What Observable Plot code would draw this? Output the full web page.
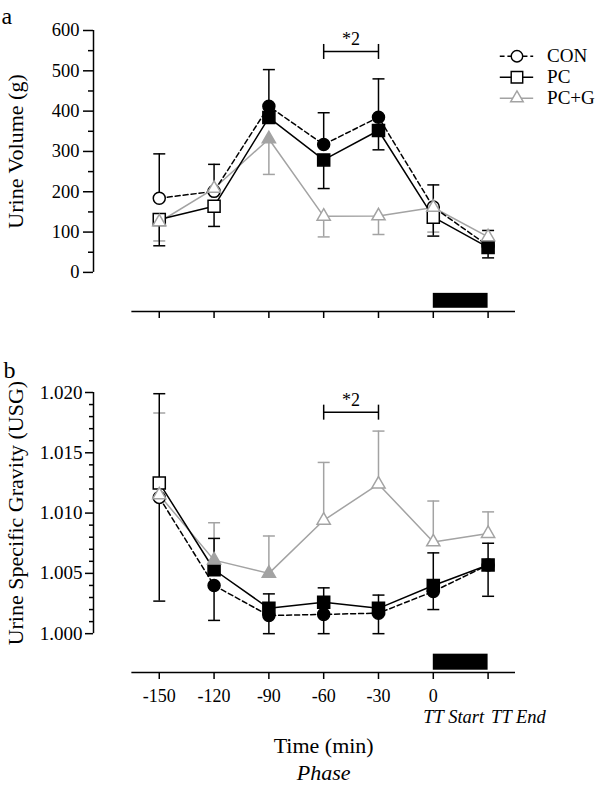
<!DOCTYPE html>
<html><head><meta charset="utf-8">
<script src="https://cdn.jsdelivr.net/npm/d3@7"></script>
<script src="https://cdn.jsdelivr.net/npm/@observablehq/plot@0.6"></script>
<style>
body{margin:0;background:#fff;font-family:'Liberation Serif','Times New Roman',serif;}
#wrap{position:relative;width:600px;height:788px;overflow:hidden;}
#wrap svg{display:block;}
#legend{position:absolute;left:495px;top:29px;}
</style></head><body>
<div id="wrap"><div id="pa"></div><div id="pb"></div><div id="legend"></div></div>
<script>
// ---- shared categories ----
const times = [-150, -120, -90, -60, -30, 0, 30];
const tickLabels = ["-150", "-120", "-90", "-60", "-30", "0", ""];
const phaseTimes = [0, 30];
const phaseLabels = ["TT Start", "TT End"];
const series = ["CON", "PC", "PC+G"];

// ---- panel a: urine volume (g) ----
const volCON = [184, 201, 412, 317, 385, 162, 66];
const volPC = [131, 164, 384, 279, 352, 137, 62];
const volPCG = [125, 208, 331, 139, 140, 161, 88];
const volCONsd = [110, 67, 91, 79, 95, 55, 38];
const volPCsd = [65, 50, null, 71, 48, 47, 26];
const volPCGsd = [47, null, 88, 51, 46, 61, 40];
const volCONfilled = [0, 0, 1, 1, 1, 0, 1];
const volPCfilled = [0, 0, 1, 1, 1, 0, 1];
const volPCGfilled = [0, 0, 1, 0, 0, 0, 0];
const volErrDir = [1, -1, -1];
const volTicks = [0, 100, 200, 300, 400, 500, 600];
const volTickLabels = ["0", "100", "200", "300", "400", "500", "600"];
const volMinor = [50, 150, 250, 350, 450, 550];
const volSig = {from: -60, to: -30, y: 548, label: "*2"};

// ---- panel b: urine specific gravity ----
const usgCON = [1.0113, 1.0040, 1.0015, 1.0016, 1.0017, 1.0035, 1.0057];
const usgPC = [1.0125, 1.0053, 1.0021, 1.0026, 1.0021, 1.0040, 1.0057];
const usgPCG = [1.0115, 1.0061, 1.0050, 1.0094, 1.0124, 1.0076, 1.0083];
const usgCONsd = [0.0086, 0.0029, 0.0015, 0.0016, 0.0017, 0.0015, 0.0026];
const usgPCsd = [0.0074, 0.0026, 0.0012, 0.0012, 0.0011, 0.0027, 0.0018];
const usgPCGsd = [0.0068, 0.0031, 0.0031, 0.0048, 0.0044, 0.0034, 0.0018];
const usgCONfilled = [0, 1, 1, 1, 1, 1, 1];
const usgPCfilled = [0, 1, 1, 1, 1, 1, 1];
const usgPCGfilled = [0, 1, 1, 0, 0, 0, 0];
const usgErrDir = [-1, 1, 1];
const usgTicks = [1.000, 1.005, 1.010, 1.015, 1.020];
const usgTickLabels = ["1.000", "1.005", "1.010", "1.015", "1.020"];
const usgMinor = [1.001, 1.002, 1.003, 1.004, 1.006, 1.007, 1.008, 1.009, 1.011, 1.012, 1.013, 1.014, 1.016, 1.017, 1.018, 1.019];
const usgSig = {from: -60, to: -30, y: 1.01837, label: "*2"};

// ---- styles ----
const FONT = "'Liberation Serif','Times New Roman',serif";
const colors = ["#000000", "#000000", "#a3a3a3"];
const dashes = ["5,3", null, null];
const symbols = ["circle", "square", "triangle"];
const radii = [6, 6.8, 4.9];
const SW = 1.5;
const capSym = {draw(ctx) { ctx.moveTo(-6, 0); ctx.lineTo(6, 0); }};
const vSym = {draw(ctx) { ctx.moveTo(0, -7.5); ctx.lineTo(0, 7.5); }};
const xDomain = [-186, 45];
const axisExtent = [-165, 45];

function rows(means, sds, filled, dir) {
  return times.map((t, i) => ({t, m: means[i], sd: sds[i], f: filled[i], dir}));
}

function seriesMarks(all) {
  const marks = [];
  [2, 0, 1].forEach(k => {
    marks.push(Plot.line(all[k], {x: "t", y: "m", stroke: colors[k], strokeWidth: SW,
      strokeDasharray: dashes[k] || undefined}));
  });
  [2, 0, 1].forEach(k => {
    const e = all[k].filter(d => d.sd != null);
    marks.push(Plot.ruleX(e, {x: "t", y1: "m", y2: d => d.m + d.dir * d.sd, stroke: colors[k], strokeWidth: SW}));
    marks.push(Plot.dot(e, {x: "t", y: d => d.m + d.dir * d.sd, symbol: capSym, r: 5, stroke: colors[k], fill: "none", strokeWidth: SW}));
  });
  [0, 1, 2].forEach(k => {
    marks.push(Plot.dot(all[k], {x: "t", y: "m", symbol: symbols[k], r: radii[k], stroke: colors[k],
      fill: d => d.f ? colors[k] : "white", strokeWidth: SW}));
  });
  return marks;
}

function sigMarks(sig) {
  return [
    Plot.ruleY([sig], {x1: "from", x2: "to", y: "y", strokeWidth: SW}),
    Plot.dot([sig.from, sig.to], {x: d => d, y: () => sig.y, symbol: vSym, r: 5, stroke: "black", fill: "none", strokeWidth: SW}),
    Plot.text([sig], {x: d => (d.from + d.to) / 2, y: "y", text: "label", dy: -12, fontSize: 18})
  ];
}

// ---------- Panel a ----------
const allA = [rows(volCON, volCONsd, volCONfilled, volErrDir[0]),
              rows(volPC, volPCsd, volPCfilled, volErrDir[1]),
              rows(volPCG, volPCGsd, volPCGfilled, volErrDir[2])];
const yDomA = [-97, 600];
const ttBarA = {x1: phaseTimes[0], x2: phaseTimes[1], y1: -89, y2: -52};

const plotA = Plot.plot({
  width: 600, height: 330, marginLeft: 93, marginRight: 85, marginTop: 30, marginBottom: 19,
  x: {domain: xDomain},
  y: {domain: yDomA},
  color: {type: "identity"},
  style: {fontFamily: FONT, fontSize: "18px", color: "black", background: "transparent", overflow: "visible"},
  marks: [
    Plot.ruleY([yDomA[0]], {x1: axisExtent[0], x2: axisExtent[1], strokeWidth: SW}),
    Plot.ruleX([xDomain[0]], {y1: volTicks[0], y2: volTicks[volTicks.length - 1], strokeWidth: SW}),
    Plot.axisY({ticks: volTicks, tickSize: 10, tickPadding: 4, tickFormat: d => volTickLabels[volTicks.indexOf(d)], label: null, fontSize: 18.5, strokeWidth: SW}),
    Plot.axisY({ticks: volMinor, tickSize: 5, tickFormat: () => "", label: null, strokeWidth: SW}),
    Plot.axisX({ticks: times, tickSize: 7, tickFormat: () => "", label: null, strokeWidth: SW}),
    Plot.rect([ttBarA], {x1: "x1", x2: "x2", y1: "y1", y2: "y2", fill: "black"}),
    ...sigMarks(volSig),
    ...seriesMarks(allA),
    Plot.text(["Urine Volume (g)"], {x: xDomain[0], y: (volTicks[0] + volTicks[volTicks.length - 1]) / 2, rotate: -90, dx: -78, fontSize: 22}),
    Plot.text(["a"], {frameAnchor: "top-left", textAnchor: "start", dx: -92, dy: -24, fontSize: 24})
  ]
});
document.getElementById("pa").appendChild(plotA);

// ---------- Panel b ----------
const allB = [rows(usgCON, usgCONsd, usgCONfilled, usgErrDir[0]),
              rows(usgPC, usgPCsd, usgPCfilled, usgErrDir[1]),
              rows(usgPCG, usgPCGsd, usgPCGfilled, usgErrDir[2])];
const yDomB = [0.99678, 1.020];
const ttBarB = {x1: phaseTimes[0], x2: phaseTimes[1], y1: 0.99697, y2: 0.9983};
const phaseRows = phaseTimes.map((t, i) => ({t, label: phaseLabels[i]}));

const plotB = Plot.plot({
  width: 600, height: 458, marginLeft: 93, marginRight: 85, marginTop: 62, marginBottom: 116,
  x: {domain: xDomain},
  y: {domain: yDomB},
  color: {type: "identity"},
  style: {fontFamily: FONT, fontSize: "18px", color: "black", background: "transparent", overflow: "visible"},
  marks: [
    Plot.ruleY([yDomB[0]], {x1: axisExtent[0], x2: axisExtent[1], strokeWidth: SW}),
    Plot.ruleX([xDomain[0]], {y1: usgTicks[0], y2: usgTicks[usgTicks.length - 1], strokeWidth: SW}),
    Plot.axisY({ticks: usgTicks, tickSize: 8, tickPadding: 3, tickFormat: d => usgTickLabels[usgTicks.indexOf(d)], label: null, fontSize: 19, strokeWidth: SW}),
    Plot.axisY({ticks: usgMinor, tickSize: 4, tickFormat: () => "", label: null, strokeWidth: SW}),
    Plot.axisX({ticks: times, tickSize: 7, tickPadding: 10, tickFormat: d => tickLabels[times.indexOf(d)], label: null, fontSize: 18, strokeWidth: SW}),
    Plot.rect([ttBarB], {x1: "x1", x2: "x2", y1: "y1", y2: "y2", fill: "black"}),
    ...sigMarks(usgSig),
    ...seriesMarks(allB),
    Plot.text(["Urine Specific Gravity (USG)"], {x: xDomain[0], y: (usgTicks[0] + usgTicks[usgTicks.length - 1]) / 2, rotate: -90, dx: -78, fontSize: 22}),
    Plot.text(["b"], {frameAnchor: "top-left", textAnchor: "start", dx: -90, dy: -32, fontSize: 24}),
    Plot.text(phaseRows.slice(0, 1), {x: "t", text: "label", frameAnchor: "bottom", dy: 50, dx: -10, textAnchor: "start", fontSize: 18.5, fontStyle: "italic"}),
    Plot.text(phaseRows.slice(1), {x: "t", text: "label", frameAnchor: "bottom", dy: 50, dx: 3, textAnchor: "start", fontSize: 18.5, fontStyle: "italic"}),
    Plot.text(["Time (min)"], {x: (axisExtent[0] + axisExtent[1]) / 2, frameAnchor: "bottom", dy: 80, fontSize: 22}),
    Plot.text(["Phase"], {x: (axisExtent[0] + axisExtent[1]) / 2, frameAnchor: "bottom", dy: 107, fontSize: 22, fontStyle: "italic"})
  ]
});
document.getElementById("pb").appendChild(plotB);

// ---------- Legend ----------
const legRows = series.map((s, k) => ({s, k}));
const legMarks = [];
series.forEach((s, k) => {
  legMarks.push(Plot.ruleY([s], {x1: 0, x2: 1, y: d => d, stroke: colors[k], strokeWidth: SW, strokeDasharray: dashes[k] || undefined}));
  legMarks.push(Plot.dot([s], {x: 0.5, y: d => d, symbol: symbols[k], r: radii[k], stroke: colors[k], fill: "white", strokeWidth: SW}));
});
legMarks.push(Plot.text(legRows, {x: 1, y: "s", text: "s", dx: 14, textAnchor: "start", fontSize: 20}));
const legend = Plot.plot({
  width: 110, height: 100, marginLeft: 5, marginRight: 70, marginTop: 17, marginBottom: 17,
  x: {domain: [0, 1], axis: null},
  y: {type: "point", domain: series, axis: null},
  color: {type: "identity"},
  style: {fontFamily: FONT, fontSize: "20px", color: "black", background: "transparent", overflow: "visible"},
  marks: legMarks
});
document.getElementById("legend").appendChild(legend);
</script>
</body></html>
